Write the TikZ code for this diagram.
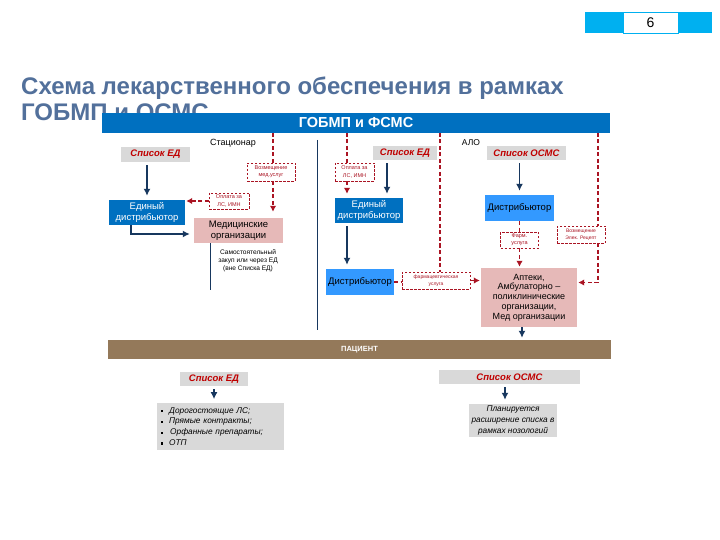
\documentclass[tikz,border=0pt]{standalone}
\usepackage{fontspec}
\setmainfont{Liberation Sans}
\usepackage{tikz}
\usetikzlibrary{arrows.meta,positioning}

\definecolor{titleblue}{RGB}{82,112,155}
\definecolor{barblue}{RGB}{0,112,192}
\definecolor{lightblue}{RGB}{51,153,255}
\definecolor{numcyan}{RGB}{0,176,240}
\definecolor{pinkfill}{RGB}{230,185,184}
\definecolor{listgray}{RGB}{217,217,217}
\definecolor{listred}{RGB}{192,0,0}
\definecolor{dashred}{RGB}{170,20,35}
\definecolor{navy}{RGB}{23,55,94}
\definecolor{patbrown}{RGB}{148,121,90}

\begin{document}
\begin{tikzpicture}[
    x=1pt, y=-1pt,
    font=\fontsize{9.5}{10.5}\selectfont,
    darkbox/.style={fill=barblue, text=white, align=center, inner sep=0pt},
    lightbox/.style={fill=lightblue, align=center, inner sep=0pt},
    pinkbox/.style={fill=pinkfill, align=center, inner sep=0pt},
    listbox/.style={fill=listgray, text=listred, inner sep=0pt, font=\fontsize{9.5}{10}\selectfont\bfseries\itshape},
    notebox/.style={draw=dashred, line width=0.7pt, dash pattern=on 2.5pt off 1.5pt, fill=white, text=dashred, align=center, inner sep=0pt, font=\fontsize{5.5}{7.3}\selectfont},
    greybox/.style={fill=listgray, inner sep=0pt, font=\fontsize{8.3}{10.8}\selectfont\itshape},
    arrow/.style={-{Latex[length=7pt,width=7pt]}, draw=navy, line width=1.8pt, shorten >=4pt, shorten <=3pt},
    dline/.style={draw=dashred, line width=1.3pt, dash pattern=on 4pt off 2.5pt},
    darrow/.style={dline, -{Latex[length=6pt,width=6.5pt]}, shorten >=1pt},
    sepline/.style={draw=navy, line width=1pt}
]
\useasboundingbox[fill=white] (0,0) rectangle (720,540);

% ---------- Header ----------
\node[fill=numcyan, minimum width=38, minimum height=21, inner sep=0pt] (numL) at (604,23) {};
\node[fill=numcyan, minimum width=34, minimum height=21, inner sep=0pt] (numR) at (695,23) {};
\node[draw=numcyan, fill=white, minimum width=55, minimum height=21, inner sep=0pt, font=\fontsize{14}{14}\selectfont] (num) at (650.5,23) {6};

\node[anchor=north west, align=left, inner sep=0pt, text=titleblue, font=\fontsize{24}{25.5}\selectfont\bfseries] (title) at (21,77)
    {Схема лекарственного обеспечения в рамках\\ГОБМП и ОСМС};

\node[fill=barblue, text=white, minimum width=508, minimum height=20, inner sep=0pt, font=\fontsize{14.5}{14.5}\selectfont\bfseries] (bar) at (356,123) {ГОБМП и ФСМС};

\node[font=\fontsize{9}{9}\selectfont] (stac) at (233,143) {Стационар};
\node[font=\fontsize{8.5}{8.5}\selectfont] (alo) at (471,143) {АЛО};

% free ends on the bar
\coordinate (tMed) at (273,133);
\coordinate (tPay) at (347,133);
\coordinate (tPh) at (440,133);
\coordinate (tRec) at (598,133);

% ---------- Left column (Стационар) ----------
\node[listbox, minimum width=69, minimum height=15] (listL) at (155.5,154.5) {Список ЕД};
\node[darkbox, minimum width=76, minimum height=25] (edL) at (147,212.5) {Единый\\дистрибьютор};
\node[pinkbox, minimum width=89, minimum height=25] (medorg) at (238.5,230.5) {Медицинские\\организации};
\node[notebox, minimum width=40, minimum height=16] (payL) at (229,201) {Оплата за\\ЛС, ИМН};
\node[notebox, minimum width=48, minimum height=18] (reimb) at (271,172) {Возмещение\\мед.услуг};
\node[align=center, inner sep=0pt, font=\fontsize{6.6}{8}\selectfont] (selfbuy) at (248,261) {Самостоятельный\\закуп или через ЕД\\(вне Списка ЕД)};
\coordinate (selfEnd) at (210,290);

% ---------- Middle column ----------
\node[listbox, minimum width=64, minimum height=14] (listM) at (405,153) {Список ЕД};
\node[notebox, minimum width=39, minimum height=18] (payM) at (354.5,172) {Оплата за\\ЛС, ИМН};
\node[darkbox, minimum width=68, minimum height=25] (edM) at (369,210.5) {Единый\\дистрибьютор};
\node[lightbox, minimum width=68, minimum height=26] (distM) at (360,282) {Дистрибьютор};
\node[notebox, minimum width=68, minimum height=17, font=\fontsize{5}{7.3}\selectfont] (pharmM) at (436,280.5) {фармацевтическая\\услуга};

% ---------- Right column (АЛО) ----------
\node[listbox, minimum width=79, minimum height=14] (listO) at (526.5,153) {Список ОСМС};
\node[lightbox, minimum width=69, minimum height=26] (distO) at (519.5,208) {Дистрибьютор};
\node[notebox, minimum width=38, minimum height=16] (pharmO) at (519.5,240) {Фарм.\\услуга};
\node[notebox, minimum width=48, minimum height=17, font=\fontsize{5}{7.3}\selectfont] (reimbO) at (581,234.5) {Возмещение\\Элек. Рецепт};
\node[pinkbox, minimum width=96, minimum height=59, font=\fontsize{9}{9.8}\selectfont] (pharmacy) at (529,297.5)
    {Аптеки,\\Амбулаторно –\\поликлинические\\организации,\\Мед организации};

% ---------- Patient ----------
\node[fill=patbrown, text=white, minimum width=503, minimum height=19, inner sep=0pt, font=\fontsize{7.5}{7.5}\selectfont\bfseries] (patient) at (359.5,349.5) {ПАЦИЕНТ};

\node[listbox, minimum width=68, minimum height=14] (listLB) at (214,379) {Список ЕД};
\node[greybox, minimum width=127, minimum height=43, text width=119pt, inner sep=4pt, align=left] (itemsL) at (220.5,426.5)
    {\rule[1pt]{2.2pt}{2.2pt}\hspace{6pt}Дорогостоящие ЛС;\\
     \rule[1pt]{2.2pt}{2.2pt}\hspace{6pt}Прямые контракты;\\
     \rule[1pt]{2.2pt}{2.2pt}\hspace{7pt}Орфанные препараты;\\
     \rule[1pt]{2.2pt}{2.2pt}\hspace{6pt}ОТП};
\node[listbox, minimum width=141, minimum height=14] (listOB) at (509.5,377) {Список ОСМС};
\node[greybox, minimum width=88, minimum height=33, align=center] (planO) at (513,420.5) {Планируется\\расширение списка в\\рамках нозологий};

% ---------- Edges ----------
\draw[sepline] (317,140) coordinate (sepA) -- (317,330) coordinate (sepB);
\draw[sepline] (medorg.south -| selfEnd) -- (selfEnd);

\draw[arrow] (listL.south -| edL.north) -- (edL.north);
\draw[arrow, shorten <=0pt] ([xshift=-16pt]edL.south) |- ([yshift=-3.5pt]medorg.west);
\draw[darrow] (payL.west) -- (payL.west -| edL.east);
\draw[dline] (tMed) -- (tMed |- reimb.north);
\draw[darrow, shorten >=6pt] (tMed |- reimb.south) -- (tMed |- medorg.north);

\draw[dline] (tPay) -- (tPay |- payM.north);
\draw[darrow, shorten >=4pt] (tPay |- payM.south) -- (tPay |- edM.north);
\draw[arrow] ([xshift=-18pt]listM.south) -- ([xshift=-18pt]listM.south |- edM.north);
\draw[arrow] ([xshift=-22pt]edM.south) -- ([xshift=-22pt]edM.south |- distM.north);
\draw[dline] (tPh) -- (tPh |- pharmM.north);
\draw[dline] (distM.east) -- (pharmM.west |- distM.east);
\draw[darrow] (pharmM.east) -- (pharmM.east -| pharmacy.west);

\draw[arrow] (listO.south -| distO.north) -- (distO.north);
\draw[dline] (distO.south) -- (pharmO.north);
\draw[darrow] (pharmO.south) -- (pharmO.south |- pharmacy.north);
\draw[dline] (tRec) -- (tRec |- reimbO.north);
\draw[darrow] (tRec |- reimbO.south) |- ([yshift=15pt]pharmacy.east);
\draw[arrow, shorten <=0pt, shorten >=2pt] ([xshift=-7pt]pharmacy.south) -- ([xshift=-7pt]pharmacy.south |- patient.north);

\draw[arrow] (listLB.south) -- (listLB.south |- itemsL.north);
\draw[arrow] ([xshift=-4.5pt]listOB.south) -- ([xshift=-4.5pt]listOB.south |- planO.north);

\end{tikzpicture}
\end{document}
